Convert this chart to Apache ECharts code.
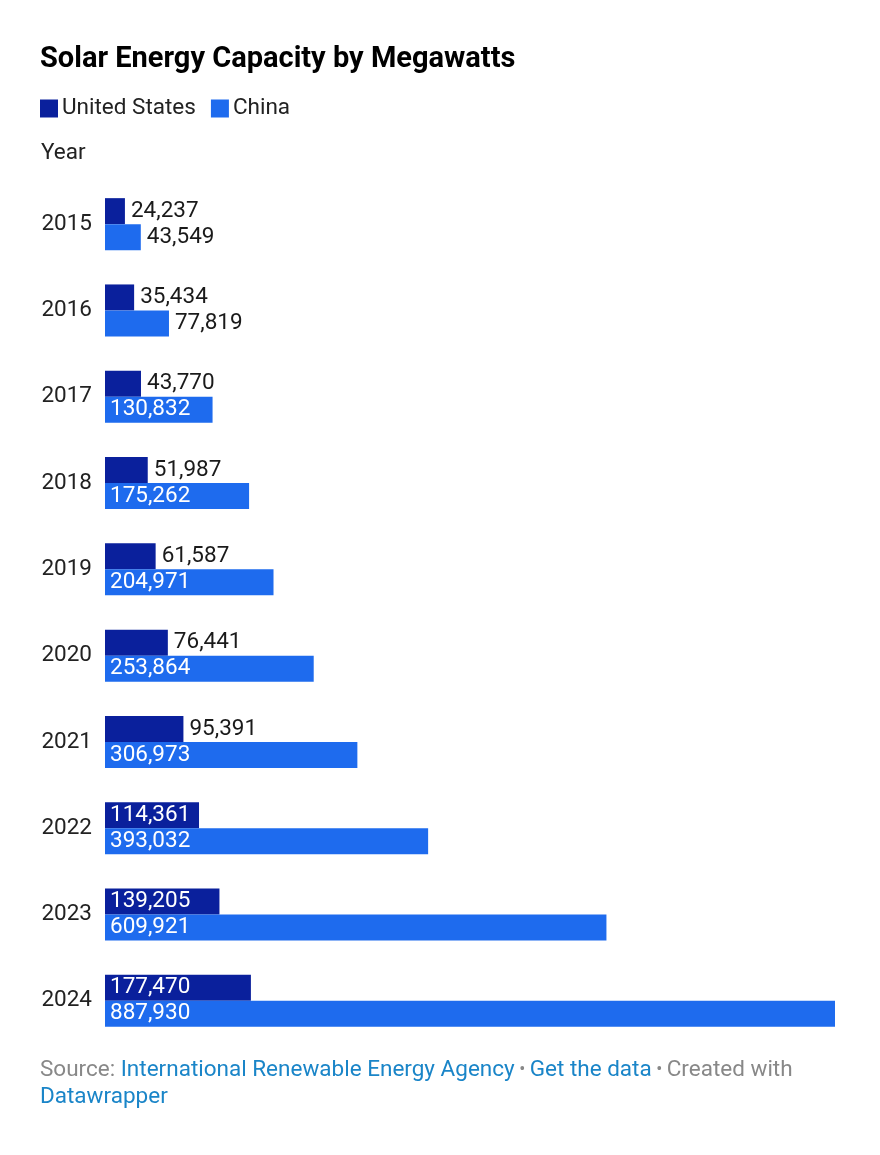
<!DOCTYPE html>
<html><head><meta charset="utf-8">
<script src="https://cdn.jsdelivr.net/npm/echarts@6/dist/echarts.min.js"></script>
<style>html,body{margin:0;padding:0;background:#fff}#c{width:880px;height:1155px}</style>
</head><body><div id="c"></div>
<script>
const years = ['2015','2016','2017','2018','2019','2020','2021','2022','2023','2024'];
const usValues = [24237,35434,43770,51987,61587,76441,95391,114361,139205,177470];
const chinaValues = [43549,77819,130832,175262,204971,253864,306973,393032,609921,887930];
const seriesNames = ['United States','China'];
const colors = ['#0a209c','#1e6bee'];
const insideThreshold = 100000;

const fmt = v => v.toLocaleString('en-US');
function items(vals){
  return vals.map(v => {
    const inside = v > insideThreshold;
    return {value: v, label: {position: inside ? 'insideLeft' : 'right', color: inside ? '#fff' : '#1a1a1a', distance: inside ? 5 : 6}};
  });
}
const FONT = 'Roboto';
const FS = 22.5;
const chart = echarts.init(document.getElementById('c'), null, {renderer:'canvas'});
chart.setOption({
  animation:false,
  textStyle:{fontFamily:FONT},
  color: colors,
  title:{text:'Solar Energy Capacity by Megawatts', left:35, top:40, textStyle:{fontFamily:FONT, fontSize:29, fontWeight:'bold', color:'#000'}},
  legend:{left:40, top:97, padding:0, icon:'rect', itemWidth:18, itemHeight:18, itemGap:15, textStyle:{fontFamily:FONT, fontSize:FS, color:'#222', padding:[0,0,0,-1]}, data:seriesNames},
  grid:{left:105, top:181, width:730, height:863},
  xAxis:{type:'value', min:0, max:chinaValues[9], show:false},
  yAxis:{type:'category', data:years, inverse:true, axisLine:{show:false}, axisTick:{show:false},
    axisLabel:{fontFamily:FONT, fontSize:FS, color:'#222', margin:13, padding:[3,0,0,0]}},
  graphic:[
    {type:'text', left:41, top:142, style:{text:'Year', fontFamily:FONT, fontSize:FS, fill:'#222'}},
    {type:'text', left:40, top:1059, style:{
      rich:{
        g:{fontFamily:FONT, fontSize:FS, fill:'#888', lineHeight:27},
        l:{fontFamily:FONT, fontSize:FS, fill:'#1a85c8', lineHeight:27},
        d:{fontFamily:FONT, fontSize:18, fill:'#888', lineHeight:27}
      },
      text:'{g|Source: }{l|International Renewable Energy Agency}{d| • }{l|Get the data}{d| • }{g|Created with}\n{l|Datawrapper}'
    }}
  ],
  series:[
    {name:seriesNames[0], type:'bar', data:items(usValues), barWidth:26, barGap:'0%',
     label:{show:true, fontFamily:FONT, fontSize:FS, formatter:p=>fmt(p.value)}},
    {name:seriesNames[1], type:'bar', data:items(chinaValues), barWidth:26, barGap:'0%',
     label:{show:true, fontFamily:FONT, fontSize:FS, formatter:p=>fmt(p.value)}}
  ]
});
</script></body></html>
